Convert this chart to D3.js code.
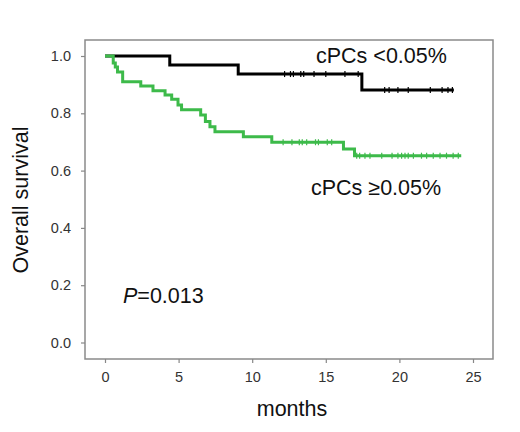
<!DOCTYPE html>
<html lang="en">
<head>
    <meta charset="UTF-8">
    <title>Overall survival by cPCs</title>
    <script src="https://cdnjs.cloudflare.com/ajax/libs/d3/7.8.5/d3.min.js"></script>
    <style>
        body {
            margin: 0;
            background: #fff;
            font-family: Arial, "Liberation Sans", sans-serif;
        }
        .tick text {
            font-size: 14.5px;
            fill: #333;
        }
        .tick line {
            stroke: #888;
            stroke-width: 1.2;
        }
    </style>
</head>
<body>
    <svg id="svg" width="520" height="432"></svg>

    <script>
        // Kaplan-Meier steps (time in months, survival after the drop)
        const lowTimes = [0, 4.4, 9.05, 17.45, 23.7];
        const lowSurv  = [1.0, 0.969, 0.937, 0.881, 0.881];
        const lowCensored = [12.2, 12.6, 12.8, 13.3, 13.5, 14.2, 15.0, 16.3, 17.2,
                             19.0, 19.3, 19.9, 20.6, 22.1, 22.9, 23.3, 23.6];

        const highTimes = [0, 0.56, 0.7, 0.85, 1.2, 2.43, 3.26, 4.08, 4.53, 4.96, 5.2,
                           6.5, 6.82, 7.13, 7.47, 9.4, 11.33, 16.2, 16.95, 24.2];
        const highSurv  = [1.0, 0.976, 0.962, 0.944, 0.910, 0.895, 0.879, 0.864, 0.849, 0.829, 0.812,
                           0.794, 0.771, 0.753, 0.736, 0.718, 0.699, 0.675, 0.652, 0.652];
        const highCensored = [12.1, 12.7, 13.2, 13.4, 13.7, 14.3, 14.5, 15.1, 15.4,
                              17.1, 17.3, 17.66, 18.0, 18.8, 19.5, 19.9, 20.15, 20.38, 20.6,
                              20.95, 21.5, 21.85, 22.3, 22.76, 23.2, 23.65, 24.0];

        const xTicks = [0, 5, 10, 15, 20, 25];
        const yTicks = [0, 0.2, 0.4, 0.6, 0.8, 1.0];

        const svg = d3.select("#svg");

        const x = d3.scaleLinear().domain([0, 25]).range([105, 473]);
        const y = d3.scaleLinear().domain([0, 1]).range([342.5, 56]);

        // frame
        svg.append("rect")
            .attr("x", 85)
            .attr("y", 40)
            .attr("width", 408)
            .attr("height", 319)
            .attr("fill", "none")
            .attr("stroke", "#8a8a8a")
            .attr("stroke-width", 1.5);

        const xAxis = svg.append("g")
            .attr("transform", "translate(0,359)")
            .call(d3.axisBottom(x).tickValues(xTicks).tickSize(4).tickPadding(9).tickFormat(d3.format("d")));
        xAxis.select(".domain").remove();

        const yAxis = svg.append("g")
            .attr("transform", "translate(85,0)")
            .call(d3.axisLeft(y).tickValues(yTicks).tickSize(4).tickPadding(10).tickFormat(d3.format(".1f")));
        yAxis.select(".domain").remove();
        svg.selectAll(".tick text").attr("font-family", "Arial, 'Liberation Sans', sans-serif");

        // step curves
        const line = d3.line()
            .x(d => x(d[0]))
            .y(d => y(d[1]))
            .curve(d3.curveStepAfter);

        function survAt(times, surv, t) {
            let v = surv[0];
            for (let i = 0; i < times.length; i++) {
                if (times[i] <= t) v = surv[i];
            }
            return v;
        }

        function drawCurve(times, surv, censored, color) {
            svg.append("path")
                .datum(d3.zip(times, surv))
                .attr("d", line)
                .attr("fill", "none")
                .attr("stroke", color)
                .attr("stroke-width", 3);

            svg.selectAll(null)
                .data(censored)
                .enter()
                .append("line")
                .attr("x1", d => x(d))
                .attr("x2", d => x(d))
                .attr("y1", d => y(survAt(times, surv, d)) - 3)
                .attr("y2", d => y(survAt(times, surv, d)) + 3)
                .attr("stroke", color)
                .attr("stroke-width", 1.2);
        }

        drawCurve(lowTimes, lowSurv, lowCensored, "#000");
        drawCurve(highTimes, highSurv, highCensored, "#3dba4a");

        // labels
        svg.append("text")
            .attr("x", 316)
            .attr("y", 63)
            .attr("font-size", 21.5)
            .attr("fill", "#111")
            .text("cPCs <0.05%");

        svg.append("text")
            .attr("x", 311)
            .attr("y", 195)
            .attr("font-size", 21.5)
            .attr("fill", "#111")
            .text("cPCs \u22650.05%");

        const pText = svg.append("text")
            .attr("x", 123)
            .attr("y", 303)
            .attr("font-size", 21.5)
            .attr("fill", "#111");
        pText.append("tspan").attr("font-style", "italic").text("P");
        pText.append("tspan").text("=0.013");

        svg.append("text")
            .attr("x", 292)
            .attr("y", 416)
            .attr("text-anchor", "middle")
            .attr("font-size", 21.5)
            .attr("fill", "#111")
            .text("months");

        svg.append("text")
            .attr("transform", "translate(28,200) rotate(-90)")
            .attr("text-anchor", "middle")
            .attr("font-size", 21.5)
            .attr("fill", "#111")
            .text("Overall survival");
    </script>
</body>
</html>
